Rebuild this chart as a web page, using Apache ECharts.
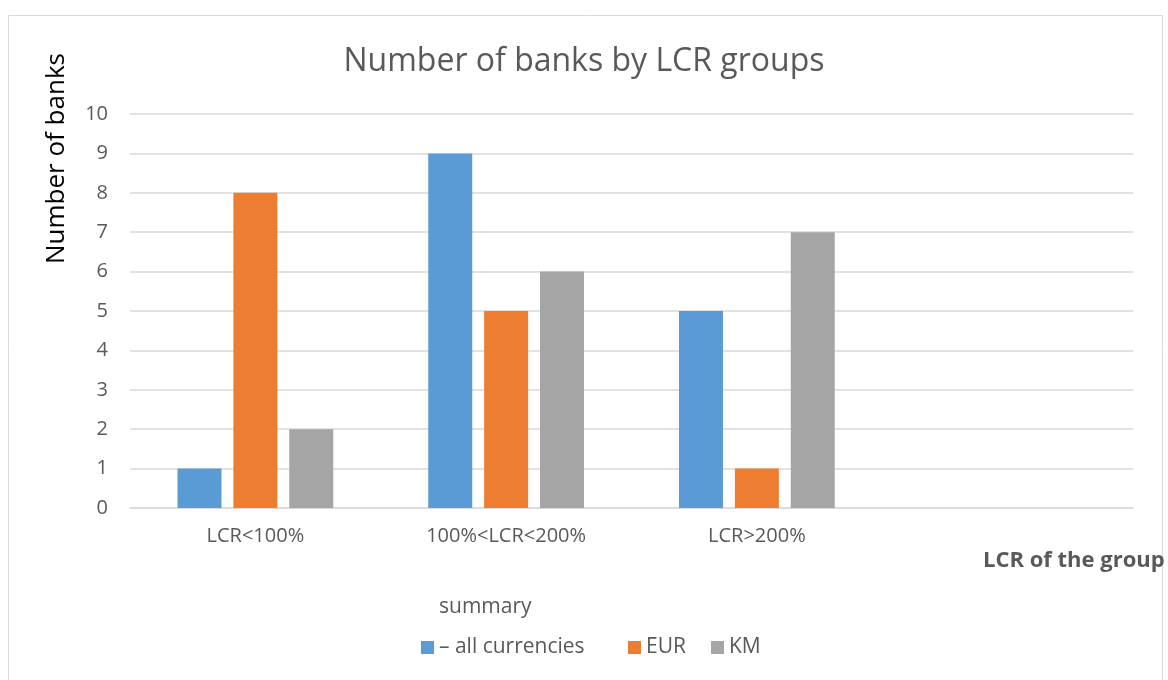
<!DOCTYPE html>
<html><head><meta charset="utf-8">
<script src="https://cdn.jsdelivr.net/npm/echarts@6/dist/echarts.min.js"></script>
<style>html,body{margin:0;padding:0;background:#fff}#c{width:1168px;height:680px}</style>
</head><body><div id="c"></div>
<script>
const categories = ['LCR<100%', '100%<LCR<200%', 'LCR>200%', ''];
const allCurrencies = [1, 9, 5, null];
const eur = [8, 5, 1, null];
const km = [2, 6, 7, null];
const yTicks = [0, 10, 1];

const FONT = '"Open Sans", "Liberation Sans", sans-serif';
const chart = echarts.init(document.getElementById('c'));
const legendText = {color: '#595959', fontSize: 21, fontFamily: FONT};
chart.setOption({
  animation: false,
  title: {text: 'Number of banks by LCR groups', left: 'center', top: 41,
    textStyle: {color: '#595959', fontSize: 32, fontWeight: 'normal', fontFamily: FONT}},
  grid: {left: 130, right: 35, top: 114, bottom: 172},
  xAxis: {type: 'category', data: categories,
    axisLine: {lineStyle: {color: '#d9d9d9', width: 1.5}}, axisTick: {show: false},
    axisLabel: {color: '#595959', fontSize: 20, fontFamily: FONT, margin: 18}},
  yAxis: {type: 'value', min: yTicks[0], max: yTicks[1], interval: yTicks[2],
    axisLine: {show: false}, axisTick: {show: false},
    splitLine: {lineStyle: {color: '#d9d9d9', width: 1.5}},
    axisLabel: {color: '#595959', fontSize: 20, fontFamily: FONT, margin: 22}},
  legend: [
    {data: ['– all currencies'], left: 416, top: 632, itemWidth: 13, itemHeight: 13, itemGap: 0, textStyle: legendText, icon: 'rect'},
    {data: ['EUR'], left: 623, top: 632, itemWidth: 13, itemHeight: 13, textStyle: legendText, icon: 'rect'},
    {data: ['KM'], left: 706, top: 632, itemWidth: 13, itemHeight: 13, textStyle: legendText, icon: 'rect'}
  ],
  graphic: [
    {type: 'rect', shape: {x: 8.5, y: 15.5, width: 1154, height: 680}, style: {fill: 'none', stroke: '#d9d9d9', lineWidth: 1}},
    {type: 'text', left: 439, top: 597, style: {text: 'summary', fill: '#595959', font: '21px ' + FONT}},
    {type: 'text', left: 983, top: 550, style: {text: 'LCR of the group', fill: '#595959', font: 'bold 22px ' + FONT}},
    {type: 'text', x: 44, y: 264, rotation: Math.PI / 2, style: {text: 'Number of banks', fill: '#000', font: '26px ' + FONT, align: 'left', verticalAlign: 'top'}}
  ],
  series: [
    {name: '– all currencies', type: 'bar', data: allCurrencies, barWidth: 44, barGap: '27%', itemStyle: {color: '#5B9BD5'}},
    {name: 'EUR', type: 'bar', data: eur, barWidth: 44, barGap: '27%', itemStyle: {color: '#ED7D31'}},
    {name: 'KM', type: 'bar', data: km, barWidth: 44, barGap: '27%', itemStyle: {color: '#A5A5A5'}}
  ]
});
</script></body></html>
